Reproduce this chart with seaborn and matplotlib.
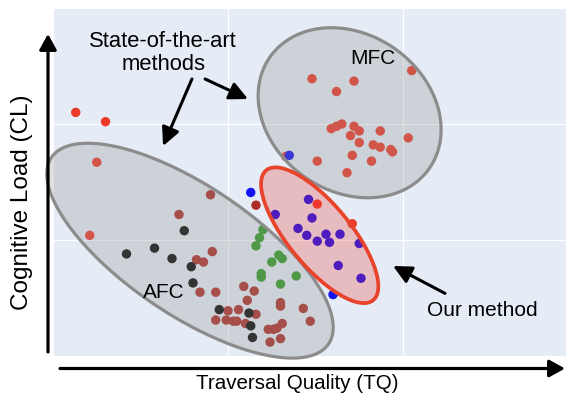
import numpy as np
import pandas as pd
import matplotlib
matplotlib.use("Agg")
import matplotlib.pyplot as plt
from matplotlib.patches import Polygon, FancyArrowPatch
import seaborn as sns

# ---------------- data (arbitrary units: TQ on x, CL on y) ----------------
red_x = [0.13, 0.30, 0.25, 0.21, 1.48, 1.72, 1.62, 2.05, 1.59, 1.62, 1.65, 1.72, 1.75, 1.87,
         1.70, 1.75, 1.83, 1.87, 1.93, 1.94, 2.03, 1.71, 1.82, 1.51, 1.68, 1.33, 1.51, 1.71]
red_y = [2.10, 2.02, 1.67, 1.04, 2.39, 2.37, 2.28, 2.46, 1.96, 1.98, 2.00, 1.98, 1.94, 1.94,
         1.90, 1.84, 1.82, 1.80, 1.78, 1.76, 1.88, 1.73, 1.68, 1.68, 1.58, 1.72, 1.31, 1.14]

dred_x = [0.90, 0.72, 0.91, 0.82, 0.86, 0.84, 0.93, 1.09, 1.15, 1.11, 1.00, 1.06, 1.16, 0.93, 0.99,
          1.03, 1.05, 1.10, 1.23, 1.26, 1.28, 1.31, 1.24, 1.30, 1.30, 1.30, 1.43, 1.47, 1.16]
dred_y = [1.39, 1.22, 0.90, 0.83, 0.81, 0.55, 0.55, 0.60, 0.56, 0.48, 0.39, 0.40, 0.36, 0.31, 0.31,
          0.30, 0.30, 0.28, 0.23, 0.23, 0.24, 0.28, 0.12, 0.15, 0.43, 0.46, 0.41, 0.30, 1.30]

black_x = [0.75, 0.42, 0.58, 0.68, 0.79, 0.80, 0.95, 1.12, 1.13, 1.14]
black_y = [1.08, 0.88, 0.93, 0.84, 0.77, 0.63, 0.40, 0.37, 0.26, 0.16]

green_x = [1.20, 1.18, 1.16, 1.29, 1.31, 1.25, 1.19, 1.19, 1.39, 1.30]
green_y = [1.09, 1.02, 0.95, 0.87, 0.84, 0.81, 0.71, 0.68, 0.69, 0.62]

blue_x = [1.46, 1.27, 1.48, 1.40, 1.45, 1.51, 1.56, 1.58, 1.64, 1.75, 1.63, 1.76, 1.13, 1.35, 1.60]
blue_y = [1.35, 1.22, 1.19, 1.10, 1.04, 0.99, 1.05, 0.98, 1.05, 0.97, 0.78, 0.67, 1.41, 1.73, 0.53]

palette = {"red": "#ec3a2a", "dred": "#ae2f2a", "black": "#0a0a0a",
           "green": "#2f9a25", "blue": "#1212f2"}

frames = []
for g, xs, ys in [("dred", dred_x, dred_y), ("black", black_x, black_y),
                  ("green", green_x, green_y), ("red", red_x, red_y),
                  ("blue", blue_x, blue_y)]:
    frames.append(pd.DataFrame({"TQ": xs, "CL": ys, "group": g}))
df = pd.concat(frames, ignore_index=True)

# ---------------- style ----------------
sns.set_style("darkgrid", {"axes.facecolor": "#e5ecf6", "grid.color": "white",
                           "grid.linewidth": 0.9})
plt.rcParams["font.family"] = ["Liberation Sans", "DejaVu Sans"]
plt.rcParams["text.color"] = "black"

W, H = 566, 402
fig = plt.figure(figsize=(W / 100, H / 100), dpi=100)
L, B, R, T = 53, 45, 566, 393   # axes box in figure pixels
ax = fig.add_axes([L / W, B / H, (R - L) / W, (T - B) / H])

XPX, YPX = 175.0, 116.0          # pixels per data unit
ax.set_xlim(0, (R - L) / XPX)
ax.set_ylim(0, (T - B) / YPX)
ax.set_xticks([0, 1, 2])
ax.set_yticks([0, 1, 2, 3])
ax.set_xticklabels([])
ax.set_yticklabels([])
ax.tick_params(length=0)
for s in ax.spines.values():
    s.set_visible(False)

sns.scatterplot(data=df, x="TQ", y="CL", hue="group", palette=palette,
                s=46, linewidth=0, legend=False, ax=ax, zorder=3)
ax.set_xlabel("")
ax.set_ylabel("")


def ellipse_poly(cx, cy, a_px, b_px, theta_deg, n=200):
    t = np.linspace(0, 2 * np.pi, n)
    th = np.deg2rad(theta_deg)
    dx = a_px * np.cos(t) * np.cos(th) - b_px * np.sin(t) * np.sin(th)
    dy = a_px * np.cos(t) * np.sin(th) + b_px * np.sin(t) * np.cos(th)
    return np.column_stack([cx + dx / XPX, cy + dy / YPX])


gray_fc = (150 / 255, 150 / 255, 150 / 255, 0.30)
ax.add_patch(Polygon(ellipse_poly(1.695, 2.097, 97.2, 78.4, -34.9), closed=True,
                     facecolor=gray_fc, edgecolor="#8c8c8c", lw=2.3, zorder=4))
ax.add_patch(Polygon(ellipse_poly(0.783, 0.908, 167, 64.5, -33.9), closed=True,
                     facecolor=gray_fc, edgecolor="#8c8c8c", lw=2.3, zorder=4,
                     clip_on=False))
ax.add_patch(Polygon(ellipse_poly(1.524, 1.041, 84.1, 31.1, -50.5), closed=True,
                     facecolor=(240 / 255, 60 / 255, 50 / 255, 0.27),
                     edgecolor="#e8432b", lw=2.7, zorder=5))

# labels inside plot
ax.text(1.829, 2.569, "MFC", fontsize=15, ha="center", va="center", color="black", zorder=6)
ax.text(0.634, 0.552, "AFC", fontsize=15, ha="center", va="center", color="black", zorder=6)
ax.text(2.451, 0.397, "Our method", fontsize=15, ha="center", va="center", color="black",
        zorder=6)
ax.text(0.629, 2.621, "State-of-the-art\nmethods", fontsize=15.8, ha="center",
        va="center", multialignment="center", linespacing=1.15, color="black", zorder=6)

aprops = dict(arrowstyle="-|>,head_length=0.55,head_width=0.27", color="black",
              lw=2.2, shrinkA=0, shrinkB=0, mutation_scale=20)
ax.annotate("", xy=(0.629, 1.810), xytext=(0.794, 2.388), arrowprops=aprops, zorder=6)
ax.annotate("", xy=(1.114, 2.216), xytext=(0.869, 2.388), arrowprops=aprops, zorder=6)
ax.annotate("", xy=(1.943, 0.776), xytext=(2.240, 0.540), arrowprops=aprops, zorder=6)

# axis arrows
for p0, p1 in [((48, H - 353), (48, H - 35)), ((60, H - 369.5), (565, H - 369.5))]:
    fig.add_artist(FancyArrowPatch((p0[0] / W, p0[1] / H), (p1[0] / W, p1[1] / H),
                                   transform=fig.transFigure,
                                   arrowstyle="-|>,head_length=0.47,head_width=0.26",
                                   mutation_scale=20, lw=2.3, color="black",
                                   shrinkA=0, shrinkB=0))

fig.text(22 / W, 1 - 202 / H, "Cognitive Load (CL)", rotation=90, ha="center",
         va="center", fontsize=17.5, color="black")
fig.text(297 / W, 1 - 384 / H, "Traversal Quality (TQ)", ha="center", va="center",
         fontsize=14.8, color="black")

fig.savefig("out.png", dpi=100)
